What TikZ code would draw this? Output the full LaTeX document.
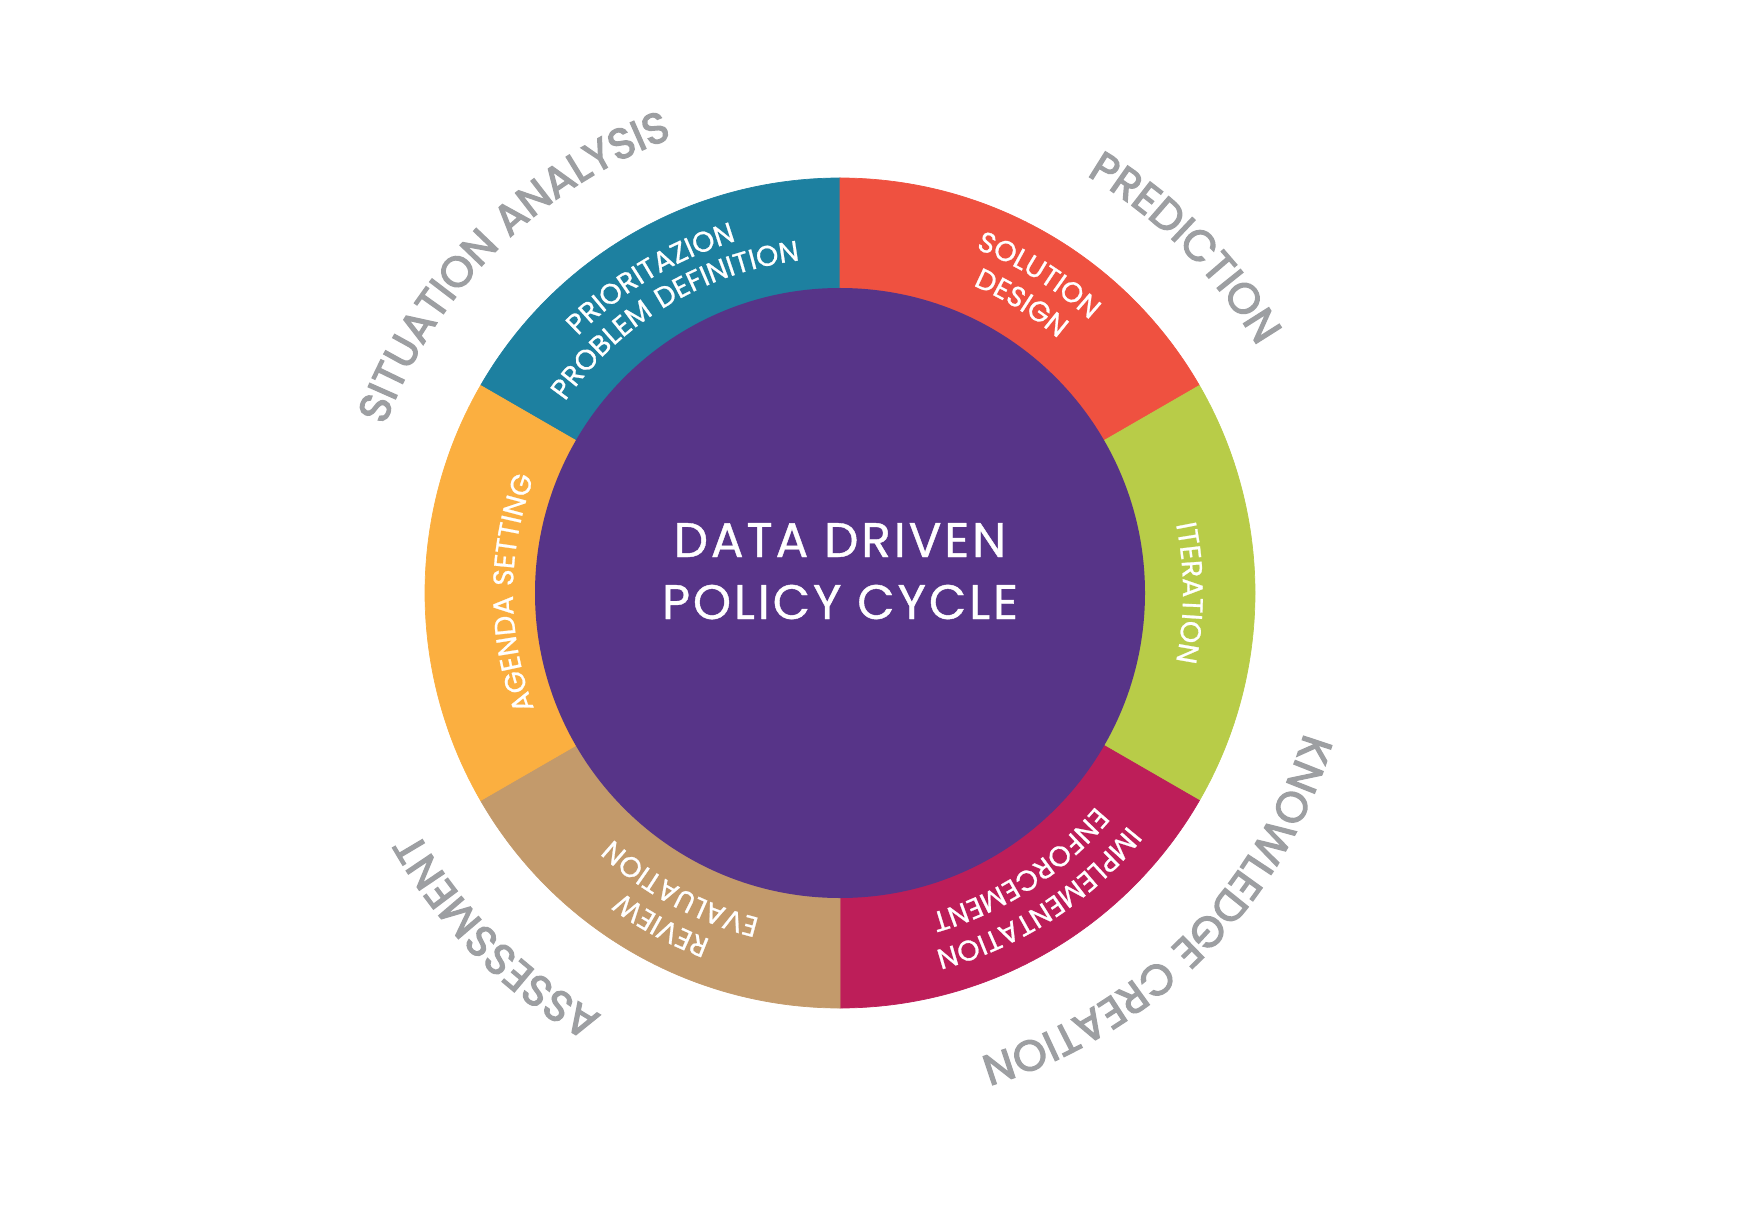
\documentclass[tikz,border=0pt]{standalone}
\usepackage{fontspec}
\usepackage{tikz}
\usetikzlibrary{decorations.text}

\newfontfamily\cyclefont[FakeBold=0.8, LetterSpace=6]{Poppins}
\newfontfamily\phasefont[FakeBold=3, LetterSpace=3]{Poppins}

\definecolor{cycleteal}{HTML}{1D80A0}
\definecolor{cyclered}{HTML}{EF5140}
\definecolor{cyclegreen}{HTML}{B8CC48}
\definecolor{cyclemagenta}{HTML}{BD1E59}
\definecolor{cycletan}{HTML}{C39A6B}
\definecolor{cycleorange}{HTML}{FBAF40}
\definecolor{cyclepurple}{HTML}{573488}
\definecolor{cyclegrey}{HTML}{9D9FA2}

\newcommand{\stepfont}{\cyclefont\fontsize{8.1}{9}\selectfont\color{white}}
\newcommand{\phasestyle}{\phasefont\fontsize{12.2}{13}\selectfont\color{cyclegrey}}

% text set clockwise round the centre: angle, radius, format, text
\newcommand{\arctext}[4]{%
  \path[decorate, decoration={text along path, text align=center,
    text={|#3|#4}}]
    ({#1+50}:#2) arc[start angle={#1+50}, end angle={#1-50}, radius=#2];}

\begin{document}
\begin{tikzpicture}[font=\cyclefont]

% Manually size the picture
\useasboundingbox (-8.40,-6.31) rectangle (9.22,5.93);

% Ring
\foreach \from/\to/\col in {90/150/cycleteal, 30/90/cyclered, -30/30/cyclegreen,
  -90/-30/cyclemagenta, 210/270/cycletan, 150/210/cycleorange}
  \fill[\col, draw=\col, line width=0.2pt] (0,0) -- (\from:4.15)
    arc[start angle=\from, end angle=\to, radius=4.15] -- cycle;

% Centre
\fill[cyclepurple] (0,0) circle (3.05);
\node[white, font=\cyclefont\fontsize{13.8}{16}\selectfont, anchor=base] (title1) at (0, 0.36) {DATA DRIVEN};
\node[white, font=\cyclefont\fontsize{13.8}{16}\selectfont, anchor=base] (title2) at (0, -0.26) {POLICY CYCLE};

% Steps
\arctext{121}{3.67}{\stepfont}{PRIORITAZION}
\arctext{121}{3.35}{\stepfont}{PROBLEM DEFINITION}
\arctext{58}{3.70}{\stepfont}{SOLUTION}
\arctext{58}{3.35}{\stepfont}{DESIGN}
\arctext{0}{3.43}{\stepfont}{ITERATION}
\arctext{-57}{3.70}{\stepfont}{IMPLEMENTATION}
\arctext{-57}{3.33}{\stepfont}{ENFORCEMENT}
\arctext{241.7}{3.70}{\stepfont}{REVIEW}
\arctext{241.7}{3.35}{\stepfont}{EVALUATION}
\arctext{180}{3.27}{\stepfont}{AGENDA SETTING}

% Phases
\arctext{135}{4.85}{\phasestyle}{SITUATION ANALYSIS}
\arctext{45}{4.85}{\phasestyle}{PREDICTION}
\arctext{-45}{4.85}{\phasestyle}{KNOWLEDGE CREATION}
\arctext{225}{4.85}{\phasestyle}{ASSESSMENT}

\end{tikzpicture}
\end{document}
